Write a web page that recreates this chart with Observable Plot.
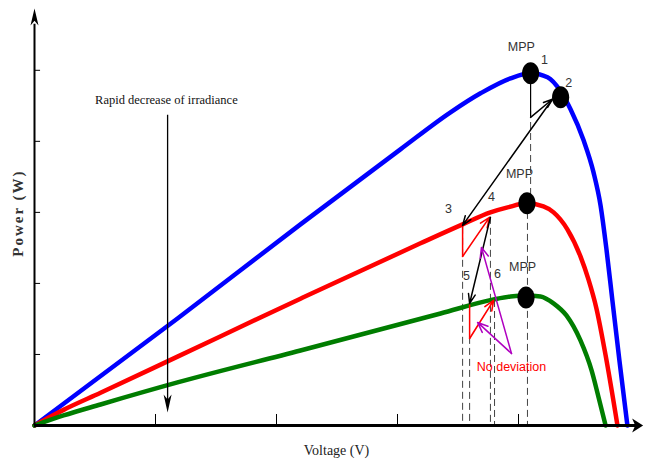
<!DOCTYPE html>
<html><head><meta charset="utf-8">
<script src="https://cdn.jsdelivr.net/npm/d3@7"></script>
<script src="https://cdn.jsdelivr.net/npm/@observablehq/plot@0.6"></script>
<style>body{margin:0;background:#fff}</style>
</head><body><div id="chart"></div><script>
// ---- curve data (Voltage, Power) in arbitrary units ----
const blueV = [0, 5.91, 10.99, 15.12, 17.19, 18.43, 19.67, 20.50, 21.20, 21.74, 22.15, 22.69, 23.10, 23.39, 23.64, 23.88, 24.17, 24.50];
const blueP = [0, 15.07, 28.31, 38.87, 44.08, 46.76, 48.87, 49.58, 49.01, 47.04, 44.51, 40.14, 35.63, 30.99, 24.65, 17.61, 9.15, 0];
const redV = [0, 1.20, 2.73, 5.91, 10.99, 15.95, 17.69, 18.84, 19.55, 20.33, 21.03, 21.45, 22.02, 22.56, 22.89, 23.22, 23.60, 24.09];
const redP = [0, 2.20, 4.60, 9.70, 17.85, 25.65, 28.31, 30.00, 30.70, 31.27, 30.85, 30.00, 27.61, 23.80, 20.56, 16.48, 9.86, 0];
const greenV = [0, 1.20, 2.73, 5.91, 10.99, 16.78, 18.97, 19.67, 20.29, 20.91, 21.45, 21.98, 22.56, 23.02, 23.31, 23.60];
const greenP = [0, 1.41, 2.96, 6.06, 10.56, 15.77, 17.75, 18.17, 18.31, 18.17, 17.18, 15.49, 11.97, 7.75, 3.94, 0];

// operating points (MPPs and point 2)
const dotV = [20.50, 21.74, 20.35, 20.31];
const dotP = [49.58, 46.20, 31.27, 18.03];

// axis ticks
const xTicks = [5, 10, 15, 20];
const yTicks = [10, 20, 30, 40, 50];

// dashed guide lines
const dashV = [17.69, 17.98, 18.84, 19.01, 20.37, 20.50];
const dashTop = [27.9, 12.4, 29.3, 17.6, 30.0, 44.2];
const dashBottom = [0, 0, 0, 0, 0, 32.0];

// labels
const labelText = ["MPP", "1", "2", "MPP", "3", "4", "5", "6", "MPP"];
const labelV = [20.12, 21.07, 22.07, 20.04, 17.11, 18.88, 17.85, 19.13, 20.17];
const labelP = [53.24, 51.4, 48.2, 35.35, 30.42, 32.11, 20.99, 21.27, 22.25];

// black tracking arrows: [v1,p1,v2,p2]
const blackArrows = [[20.50, 43.38, 21.40, 45.92], [21.40, 45.92, 17.69, 28.17], [18.84, 29.30, 17.98, 17.18]];
// red perturbation paths
const redVert = [[17.69, 28.31, 17.69, 23.80], [17.98, 17.04, 17.98, 12.25]];
const redArrows = [[17.69, 23.80, 18.80, 29.30], [17.98, 12.25, 18.97, 17.61]];
// magenta arrows
const magArrows = [[19.71, 10.14, 18.47, 25.07], [19.71, 10.14, 18.31, 14.51]];

const toRows = (V, P) => V.map((v, i) => ({v, p: P[i]}));
const toSeg = a => a.map(([x1, y1, x2, y2]) => ({x1, y1, x2, y2}));

const ellipse = {draw(ctx, size) {
  const r = Math.sqrt(size / Math.PI), rx = r * 0.78, ry = r, k = 0.5523;
  ctx.moveTo(rx, 0);
  ctx.bezierCurveTo(rx, ry * k, rx * k, ry, 0, ry);
  ctx.bezierCurveTo(-rx * k, ry, -rx, ry * k, -rx, 0);
  ctx.bezierCurveTo(-rx, -ry * k, -rx * k, -ry, 0, -ry);
  ctx.bezierCurveTo(rx * k, -ry, rx, -ry * k, rx, 0);
  ctx.closePath();
}};
function head(L, W, dir) {
  return {draw(ctx) {
    const pts = [[0, 0], [W / 2, L], [0, L * 0.72], [-W / 2, L]];
    const t = dir === "up" ? ([a, b]) => [a, b] : dir === "down" ? ([a, b]) => [a, -b] : ([a, b]) => [-b, a];
    pts.map(t).forEach(([a, b], i) => i ? ctx.lineTo(a, b) : ctx.moveTo(a, b));
    ctx.closePath();
  }};
}

const sans = "Liberation Sans, Arial, sans-serif";
const serif = "Liberation Serif, Times New Roman, serif";

const chart = Plot.plot({
  width: 646, height: 459,
  marginTop: 8, marginBottom: 34, marginLeft: 34, marginRight: 7,
  x: {domain: [0, 25], axis: null},
  y: {domain: [0, 58.7], axis: null},
  marks: [
    Plot.ruleX(dashV.map((v, i) => ({v, a: dashTop[i], b: dashBottom[i]})), {x: "v", y1: "a", y2: "b", stroke: "#444", strokeWidth: 1, strokeDasharray: "7,4"}),
    Plot.ruleX([{v: 20.50, a: 43.38, b: 49.58}], {x: "v", y1: "a", y2: "b", stroke: "#000", strokeWidth: 1.2}),
    Plot.line(toRows(blueV, blueP), {x: "v", y: "p", stroke: "#0000ff", strokeWidth: 4.5, curve: "monotone-x"}),
    Plot.line(toRows(redV, redP), {x: "v", y: "p", stroke: "#ff0000", strokeWidth: 4.5, curve: "monotone-x"}),
    Plot.line(toRows(greenV, greenP), {x: "v", y: "p", stroke: "#007d00", strokeWidth: 4.5, curve: "monotone-x"}),
    // axes
    Plot.ruleX([0], {y1: 0, y2: 56.5, stroke: "#000", strokeWidth: 2}),
    Plot.ruleY([0], {x1: 0, x2: 24.9, stroke: "#000", strokeWidth: 3}),
    Plot.dot([{v: 0, p: 58.7}], {x: "v", y: "p", symbol: head(17, 8, "up"), fill: "#000", stroke: "none"}),
    Plot.dot([{v: 25.15, p: 0}], {x: "v", y: "p", symbol: head(11, 14, "right"), fill: "#000", stroke: "none"}),
    Plot.ruleY(yTicks, {x1: 0, x2: 0.25, stroke: "#000", strokeWidth: 1}),
    Plot.ruleX(xTicks, {y1: 0, y2: 1.55, stroke: "#000", strokeWidth: 1}),
    // rapid decrease arrow
    Plot.ruleX([5.50], {y1: 43.66, y2: 3.5, stroke: "#000", strokeWidth: 1.3}),
    Plot.dot([{v: 5.50, p: 1.83}], {x: "v", y: "p", symbol: head(18, 8, "down"), fill: "#000", stroke: "none"}),
    // red perturbation paths
    Plot.link(toSeg(redVert), {x1: "x1", y1: "y1", x2: "x2", y2: "y2", stroke: "#ff0000", strokeWidth: 1.5}),
    Plot.arrow(toSeg(redArrows), {x1: "x1", y1: "y1", x2: "x2", y2: "y2", stroke: "#ff0000", strokeWidth: 1.6, headLength: 10, headAngle: 45}),
    Plot.arrow(toSeg(blackArrows), {x1: "x1", y1: "y1", x2: "x2", y2: "y2", stroke: "#000", strokeWidth: 1.5, headLength: 10, headAngle: 40}),
    Plot.arrow(toSeg(magArrows), {x1: "x1", y1: "y1", x2: "x2", y2: "y2", stroke: "#b000c0", strokeWidth: 1.5, headLength: 11, headAngle: 45}),
    // dots
    Plot.dot(toRows(dotV, dotP), {x: "v", y: "p", symbol: ellipse, r: 11, fill: "#000", stroke: "none"}),
    // labels
    Plot.text(labelText.map((t, i) => ({t, v: labelV[i], p: labelP[i]})), {x: "v", y: "p", text: "t", fill: "#333", fontSize: 12.5, fontFamily: sans}),
    Plot.text(["No deviation"], {x: 19.71, y: 8.17, text: d => d, fill: "#ff0000", fontSize: 12.5, fontFamily: sans}),
    Plot.text(["Rapid decrease of irradiance"], {x: 5.45, y: 45.77, text: d => d, fill: "#111", fontSize: 12.5, fontFamily: serif}),
    Plot.text(["Voltage (V)"], {x: 12.48, y: -3.52, text: d => d, fill: "#222", fontSize: 14, fontFamily: serif}),
    Plot.text(["Power (W)"], {x: -0.66, y: 29.9, text: d => d, rotate: -90, fill: "#333", fontSize: 15, fontWeight: "bold", fontFamily: serif})
  ]
});
d3.select(chart).selectAll("text").filter(function() { return this.textContent === "Power (W)"; }).style("letter-spacing", "2px");
document.getElementById("chart").appendChild(chart);
</script></body></html>
